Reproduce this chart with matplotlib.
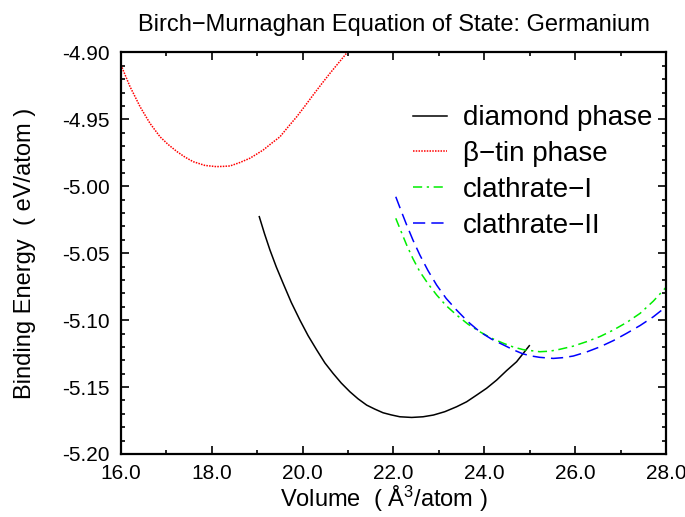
import matplotlib
matplotlib.use("Agg")
import matplotlib.pyplot as plt
from matplotlib.ticker import MultipleLocator, FormatStrFormatter

plt.rcParams['font.family'] = ['Liberation Sans', 'DejaVu Sans']
plt.rcParams['mathtext.fontset'] = 'custom'
plt.rcParams['mathtext.rm'] = 'Liberation Sans'
plt.rcParams['mathtext.it'] = 'Liberation Sans'

# Energy-volume points for each germanium phase (V in A^3/atom, E in eV/atom)
diamond_v = [19.045, 19.16, 19.28, 19.42, 19.57, 19.75, 19.94, 20.12, 20.31, 20.49,
             20.67, 20.85, 21.04, 21.22, 21.41, 21.59, 21.77, 21.95, 22.14, 22.40,
             22.65, 22.88, 23.13, 23.39, 23.61, 23.83, 24.05, 24.27, 24.49, 24.71, 24.99]
diamond_e = [-5.0227, -5.0354, -5.0476, -5.0603, -5.0725, -5.0868, -5.1000, -5.1116,
             -5.1223, -5.1320, -5.1398, -5.1470, -5.1535, -5.1588, -5.1635, -5.1665,
             -5.1692, -5.1708, -5.1722, -5.1727, -5.1722, -5.1709, -5.1684, -5.1647,
             -5.1610, -5.1560, -5.1509, -5.1448, -5.1377, -5.1311, -5.1191]

btin_v = [16.00, 16.10, 16.20, 16.31, 16.42, 16.53, 16.64, 16.75, 16.86, 17.04,
          17.23, 17.41, 17.59, 17.85, 18.10, 18.25, 18.40, 18.62, 18.84, 18.98,
          19.13, 19.31, 19.50, 19.68, 19.87, 20.05, 20.23, 20.41, 20.60, 20.79, 20.98]
btin_e = [-4.9093, -4.9175, -4.9256, -4.9330, -4.9405, -4.9468, -4.9530, -4.9580,
          -4.9630, -4.9688, -4.9740, -4.9782, -4.9816, -4.9844, -4.9853, -4.9851,
          -4.9848, -4.9822, -4.9790, -4.9761, -4.9729, -4.9680, -4.9630, -4.9556,
          -4.9480, -4.9400, -4.9318, -4.9238, -4.9156, -4.9078, -4.9000]

clath1_v = [22.05, 22.17, 22.29, 22.43, 22.58, 22.76, 22.95, 23.16, 23.39, 23.64,
            23.90, 24.16, 24.42, 24.64, 24.85, 25.22, 25.44, 25.66, 25.95, 26.25,
            26.55, 26.84, 27.14, 27.43, 27.72, 28.00]
clath1_e = [-5.0239, -5.0340, -5.0439, -5.0542, -5.0638, -5.0728, -5.0812, -5.0892,
            -5.0962, -5.1030, -5.1087, -5.1135, -5.1173, -5.1201, -5.1220, -5.1236,
            -5.1232, -5.1218, -5.1195, -5.1161, -5.1122, -5.1074, -5.1016, -5.0949,
            -5.0858, -5.0755]

clath2_v = [22.05, 22.17, 22.29, 22.43, 22.58, 22.76, 22.95, 23.16, 23.39, 23.64,
            23.90, 24.16, 24.42, 24.64, 24.85, 25.04, 25.22, 25.52, 25.74, 25.96,
            26.25, 26.55, 26.84, 27.13, 27.43, 27.72, 28.00]
clath2_e = [-5.0078, -5.0185, -5.0289, -5.0403, -5.0513, -5.0630, -5.0738, -5.0838,
            -5.0925, -5.1012, -5.1087, -5.1142, -5.1185, -5.1222, -5.1252, -5.1268,
            -5.1278, -5.1286, -5.1280, -5.1268, -5.1238, -5.1199, -5.1153, -5.1099,
            -5.1040, -5.0975, -5.0900]

labels = ["diamond phase", "\u03b2\u2212tin phase", "clathrate\u2212I", "clathrate\u2212II"]

fig = plt.figure(figsize=(6.85, 5.17), dpi=100)
ax = fig.add_axes([0.1766, 0.1219, 0.7957, 0.7766])

lw = 1.1
ax.plot(diamond_v, diamond_e, color='black', lw=lw, label=labels[0])
ax.plot(btin_v, btin_e, color='red', lw=lw, linestyle=(0, (1, 0.8)), label=labels[1])
ax.plot(clath1_v, clath1_e, color='#00ee00', lw=lw, linestyle=(0, (6, 3, 1.5, 3)), label=labels[2])
ax.plot(clath2_v, clath2_e, color='blue', lw=lw, linestyle=(0, (8, 4)), label=labels[3])

ax.set_xlim(16, 28)
ax.set_ylim(-5.20, -4.90)
ax.xaxis.set_major_locator(MultipleLocator(2))
ax.xaxis.set_minor_locator(MultipleLocator(1))
ax.yaxis.set_major_locator(MultipleLocator(0.05))
ax.yaxis.set_minor_locator(MultipleLocator(0.01))
ax.xaxis.set_major_formatter(FormatStrFormatter('%.1f'))
ax.yaxis.set_major_formatter(FormatStrFormatter('%.2f'))

ax.tick_params(which='both', direction='in', top=True, right=True, width=1.2,
               color='black', labelsize=15)
ax.tick_params(which='major', length=6)
ax.tick_params(axis='x', which='major', pad=7)
ax.tick_params(axis='y', which='major', pad=8)
ax.tick_params(which='minor', length=3)
for s in ax.spines.values():
    s.set_linewidth(1.6)

ax.set_title("Birch\u2212Murnaghan Equation of State: Germanium", fontsize=17, pad=15.5)
ax.set_xlabel("Volume  ( \u00c5$^3$/atom )", fontsize=17, labelpad=3)
ax.xaxis.set_label_coords(0.483, -0.075)
ax.set_ylabel("Binding Energy  ( eV/atom )", fontsize=17, labelpad=19)

ax.legend(loc='upper left', bbox_to_anchor=(0.536, 0.868), frameon=False,
          fontsize=20, handlelength=1.22, handletextpad=0.57, labelspacing=0.35,
          borderpad=0, borderaxespad=0)

fig.savefig("out.png", dpi=100)
